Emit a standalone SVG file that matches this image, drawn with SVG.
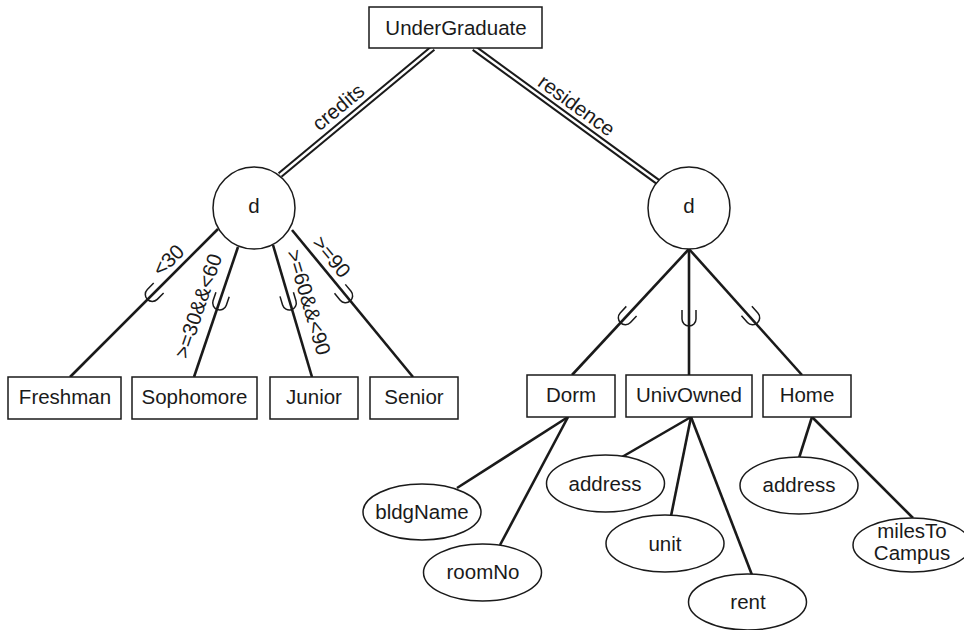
<svg xmlns="http://www.w3.org/2000/svg" width="964" height="630" viewBox="0 0 964 630">
<defs>
<style>
text{font-family:"Liberation Sans",Arial,Helvetica,sans-serif;font-size:20.5px;fill:#1a1a1a;text-anchor:middle}
.box{fill:#fff;stroke:#1a1a1a;stroke-width:1.5}
.ln{stroke:#1a1a1a;stroke-width:2.6;fill:none}
.dblo{stroke:#1a1a1a;stroke-width:6.5;fill:none}
.dbli{stroke:#fff;stroke-width:2.4;fill:none}
.cup{stroke:#1a1a1a;stroke-width:1.5;fill:none}
</style>
<path id="cupShape" class="cup" d="M -7 -8 L -7 1 A 7 7 0 0 0 7 1 L 7 -8"/>
</defs>
<rect width="964" height="630" fill="#fff"/>
<g id="connectors">
<line class="dblo" x1="433" y1="48" x2="280" y2="175"/>
<line class="dbli" x1="433" y1="48" x2="280" y2="175"/>
<line class="dblo" x1="474" y1="48" x2="658" y2="182"/>
<line class="dbli" x1="474" y1="48" x2="658" y2="182"/>
<text transform="translate(347.8,118.7) rotate(-39.7)" x="0" y="-8">credits</text>
<text transform="translate(568.4,116.8) rotate(36.1)" x="0" y="-7">residence</text>
<line class="ln" x1="218" y1="229" x2="70" y2="377"/>
<line class="ln" x1="238" y1="247" x2="194" y2="377"/>
<line class="ln" x1="273" y1="245" x2="312" y2="377"/>
<line class="ln" x1="292" y1="230" x2="413" y2="377"/>
<use href="#cupShape" transform="translate(153,293.7) rotate(45)"/>
<use href="#cupShape" transform="translate(220,302) rotate(18.7)"/>
<use href="#cupShape" transform="translate(289,302) rotate(-16.7)"/>
<use href="#cupShape" transform="translate(345,295) rotate(-39.5)"/>
<text transform="translate(177.5,269.5) rotate(-45)" x="0" y="-6">&lt;30</text>
<text transform="translate(216.2,312.1) rotate(-71.3)" x="0" y="-12">&gt;=30&amp;&amp;&lt;60</text>
<text transform="translate(291.4,307.5) rotate(73.3)" x="0" y="-11">&gt;=60&amp;&amp;&lt;90</text>
<text transform="translate(321,265.5) rotate(50.5)" x="0" y="-6.5">&gt;=90</text>
<line class="ln" x1="689" y1="249" x2="572" y2="375"/>
<line class="ln" x1="689" y1="249" x2="689" y2="375"/>
<line class="ln" x1="689" y1="249" x2="802" y2="375"/>
<use href="#cupShape" transform="translate(626,317) rotate(42.9)"/>
<use href="#cupShape" transform="translate(689,318)"/>
<use href="#cupShape" transform="translate(752,317) rotate(-41.9)"/>
<line class="ln" x1="568" y1="417" x2="457" y2="488"/>
<line class="ln" x1="568" y1="417" x2="500" y2="545"/>
<line class="ln" x1="691" y1="417" x2="622" y2="457"/>
<line class="ln" x1="691" y1="417" x2="671" y2="516"/>
<line class="ln" x1="691" y1="417" x2="752" y2="575"/>
<line class="ln" x1="812" y1="417" x2="799" y2="458"/>
<line class="ln" x1="812" y1="417" x2="913" y2="518"/>
</g>
<g id="UnderGraduate"><rect class="box" x="369" y="7" width="173" height="41"/><text x="456" y="35">UnderGraduate</text></g>
<g id="d_credits"><circle class="box" cx="254" cy="208" r="41"/><text x="254" y="213">d</text></g>
<g id="d_residence"><circle class="box" cx="689" cy="208" r="41"/><text x="689" y="213">d</text></g>
<g id="Freshman"><rect class="box" x="8" y="377" width="113" height="42"/><text x="65" y="404">Freshman</text></g>
<g id="Sophomore"><rect class="box" x="132" y="377" width="125" height="42"/><text x="194.5" y="404">Sophomore</text></g>
<g id="Junior"><rect class="box" x="270" y="377" width="88" height="42"/><text x="314" y="404">Junior</text></g>
<g id="Senior"><rect class="box" x="370" y="377" width="88" height="42"/><text x="414" y="404">Senior</text></g>
<g id="Dorm"><rect class="box" x="527" y="375" width="88" height="42"/><text x="571" y="402">Dorm</text></g>
<g id="UnivOwned"><rect class="box" x="626" y="375" width="126" height="42"/><text x="689" y="402">UnivOwned</text></g>
<g id="Home"><rect class="box" x="763" y="375" width="88" height="42"/><text x="807" y="402">Home</text></g>
<g id="bldgName"><ellipse class="box" cx="422" cy="512" rx="59" ry="28"/><text x="422" y="519">bldgName</text></g>
<g id="roomNo"><ellipse class="box" cx="482.5" cy="572.5" rx="59" ry="28.5"/><text x="483" y="579">roomNo</text></g>
<g id="address_univ"><ellipse class="box" cx="605.5" cy="483.5" rx="59" ry="28.5"/><text x="605" y="491">address</text></g>
<g id="unit"><ellipse class="box" cx="665" cy="543.5" rx="59" ry="28.5"/><text x="665" y="551">unit</text></g>
<g id="rent"><ellipse class="box" cx="747.5" cy="602" rx="59" ry="28"/><text x="748" y="609">rent</text></g>
<g id="address_home"><ellipse class="box" cx="799" cy="485.5" rx="59" ry="28.5"/><text x="799" y="492">address</text></g>
<g id="milesToCampus"><ellipse class="box" cx="912" cy="545" rx="59" ry="27"/><text x="912" y="538">milesTo</text><text x="912" y="560">Campus</text></g>
</svg>
